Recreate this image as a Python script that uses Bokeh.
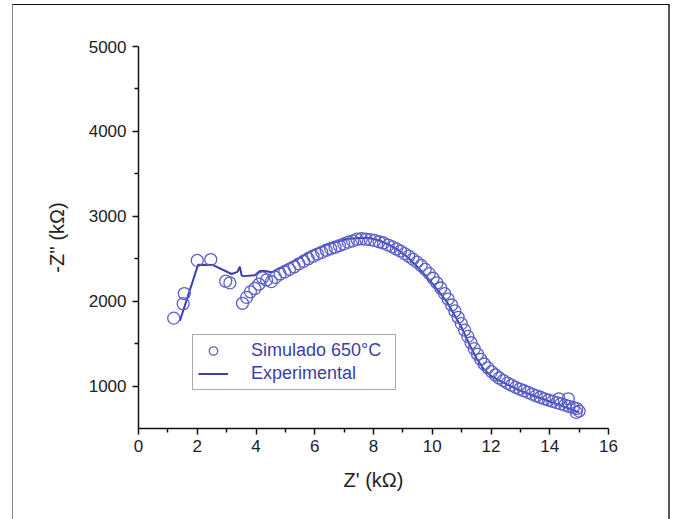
from bokeh.plotting import figure
from bokeh.models import Legend, LegendItem, FixedTicker
from bokeh.embed import file_html
from bokeh.resources import INLINE

# Simulated impedance points (Z' in kOhm, -Z'' in kOhm)
sim_x = [1.20, 1.52, 1.56, 2.00, 2.46, 2.97, 3.11, 3.54, 3.68, 3.81, 3.96, 4.10,
         4.22, 4.36, 4.52, 4.66, 4.82, 4.98, 5.14, 5.30, 5.46, 5.62, 5.78, 5.94,
         6.09, 6.24, 6.39, 6.54, 6.69, 6.84, 6.99, 7.14, 7.29, 7.44, 7.59, 7.74,
         7.89, 8.04, 8.19, 8.34, 8.50, 8.64, 8.78, 8.92, 9.06, 9.20, 9.34, 9.48,
         9.62, 9.76, 9.90, 10.03, 10.16, 10.29, 10.42, 10.54, 10.66, 10.77, 10.88,
         10.99, 11.10, 11.21, 11.32, 11.43, 11.54, 11.65, 11.77, 11.89, 12.02,
         12.15, 12.28, 12.42, 12.56, 12.70, 12.84, 12.98, 13.12, 13.26, 13.40,
         13.54, 13.68, 13.82, 13.96, 14.10, 14.24, 14.38, 14.52, 14.66, 14.80,
         14.92, 15.00, 14.90, 14.31, 14.63]
sim_y = [1800, 1970, 2090, 2480, 2490, 2235, 2215, 1975, 2045, 2110, 2150, 2200,
         2275, 2250, 2230, 2280, 2320, 2345, 2375, 2405, 2440, 2470, 2500, 2530,
         2555, 2575, 2600, 2620, 2635, 2655, 2675, 2695, 2710, 2730, 2735, 2730,
         2725, 2715, 2700, 2685, 2660, 2640, 2615, 2590, 2560, 2530, 2495, 2460,
         2420, 2375, 2325, 2270, 2215, 2155, 2090, 2025, 1955, 1885, 1810,
         1735, 1660, 1585, 1510, 1440, 1375, 1315, 1260, 1215, 1170,
         1130, 1095, 1065, 1035, 1010, 985, 965, 945, 925, 905,
         885, 868, 850, 835, 820, 805, 790, 775, 760, 748,
         735, 705, 690, 850, 850]

# Measured (experimental) curve
exp_x = [1.41, 2.03, 2.54, 3.17, 3.37, 3.45, 3.51, 3.56, 3.96, 4.13, 4.30, 4.53,
         4.87, 5.21, 5.44, 5.78, 6.12, 6.45, 6.80, 7.15, 7.50, 7.85, 8.20, 8.55,
         8.85, 9.15, 9.45, 9.75, 10.00, 10.25, 10.50, 10.75, 11.00, 11.25, 11.50,
         11.75, 12.00, 12.30, 12.60, 12.90, 13.20, 13.50, 13.80, 14.10, 14.40,
         14.70, 15.00]
exp_y = [1770, 2430, 2425, 2320, 2345, 2405, 2305, 2295, 2305, 2355, 2355, 2340,
         2400, 2460, 2500, 2575, 2625, 2670, 2705, 2735, 2745, 2745, 2715, 2660,
         2600, 2520, 2420, 2310, 2210, 2100, 1990, 1840, 1690, 1500, 1330,
         1200, 1120, 1060, 1010, 960, 920, 880, 845, 805, 770,
         730, 690]

x_ticks = [0, 2, 4, 6, 8, 10, 12, 14, 16]
y_ticks = [1000, 2000, 3000, 4000, 5000]

FONT = "Liberation Sans"
TEXT = "#222222"

p = figure(width=658, height=515, output_backend="svg", toolbar_location=None,
           x_range=(0, 16), y_range=(500, 5000),
           min_border_left=125, min_border_right=63,
           min_border_top=41, min_border_bottom=92,
           background_fill_color="white", border_fill_color="white")
p.margin = (4, 5, 0, 12)
p.styles = {"border-top": "1px solid #111", "border-left": "1px solid #888",
            "border-right": "2px solid #555"}
p.outline_line_color = None
p.grid.visible = False

exp_r = p.line(exp_x, exp_y, line_color="#3a3fae", line_width=2)
sim_r = p.scatter(sim_x, sim_y, marker="circle", size=12, fill_color=None,
                  line_color="#5b60c6", line_width=1.3)

for ax, ticks in ((p.xaxis[0], x_ticks), (p.yaxis[0], y_ticks)):
    ax.ticker = FixedTicker(ticks=ticks,
                            minor_ticks=[t + (ticks[1] - ticks[0]) / 2 for t in ticks[:-1]])
    ax.axis_line_color = "#111111"
    ax.axis_line_width = 1.5
    ax.major_tick_line_color = "#111111"
    ax.major_tick_line_width = 1.5
    ax.minor_tick_line_color = "#111111"
    ax.minor_tick_line_width = 1.5
    ax.major_tick_out = 6
    ax.major_tick_in = 0
    ax.minor_tick_out = 4
    ax.minor_tick_in = 0
    ax.major_label_text_font = FONT
    ax.major_label_text_font_size = "17px"
    ax.major_label_text_color = TEXT
    ax.axis_label_text_font = FONT
    ax.axis_label_text_font_style = "normal"
    ax.axis_label_text_color = TEXT
    ax.axis_label_text_font_size = "20px"

p.xaxis.axis_label = "Z' (kΩ)"
p.yaxis.axis_label = "-Z'' (kΩ)"
p.xaxis.major_label_standoff = 5
p.yaxis.major_label_standoff = 6
p.xaxis.axis_label_standoff = 14
p.yaxis.axis_label_standoff = 18

legend = Legend(items=[LegendItem(label="Simulado 650°C", renderers=[sim_r]),
                       LegendItem(label="Experimental", renderers=[exp_r])],
                location=(54, 38))
legend.label_text_font = FONT
legend.label_text_font_size = "18px"
legend.label_text_color = "#3a3fa8"
legend.border_line_color = "#555555"
legend.border_line_width = 1.2
legend.background_fill_alpha = 1
legend.padding = 5
legend.spacing = 2
legend.glyph_width = 30
legend.glyph_height = 21
legend.label_standoff = 23
legend.label_width = 139
legend.margin = 0
p.add_layout(legend, "center")

open("out.html", "w").write(file_html(p, INLINE))
